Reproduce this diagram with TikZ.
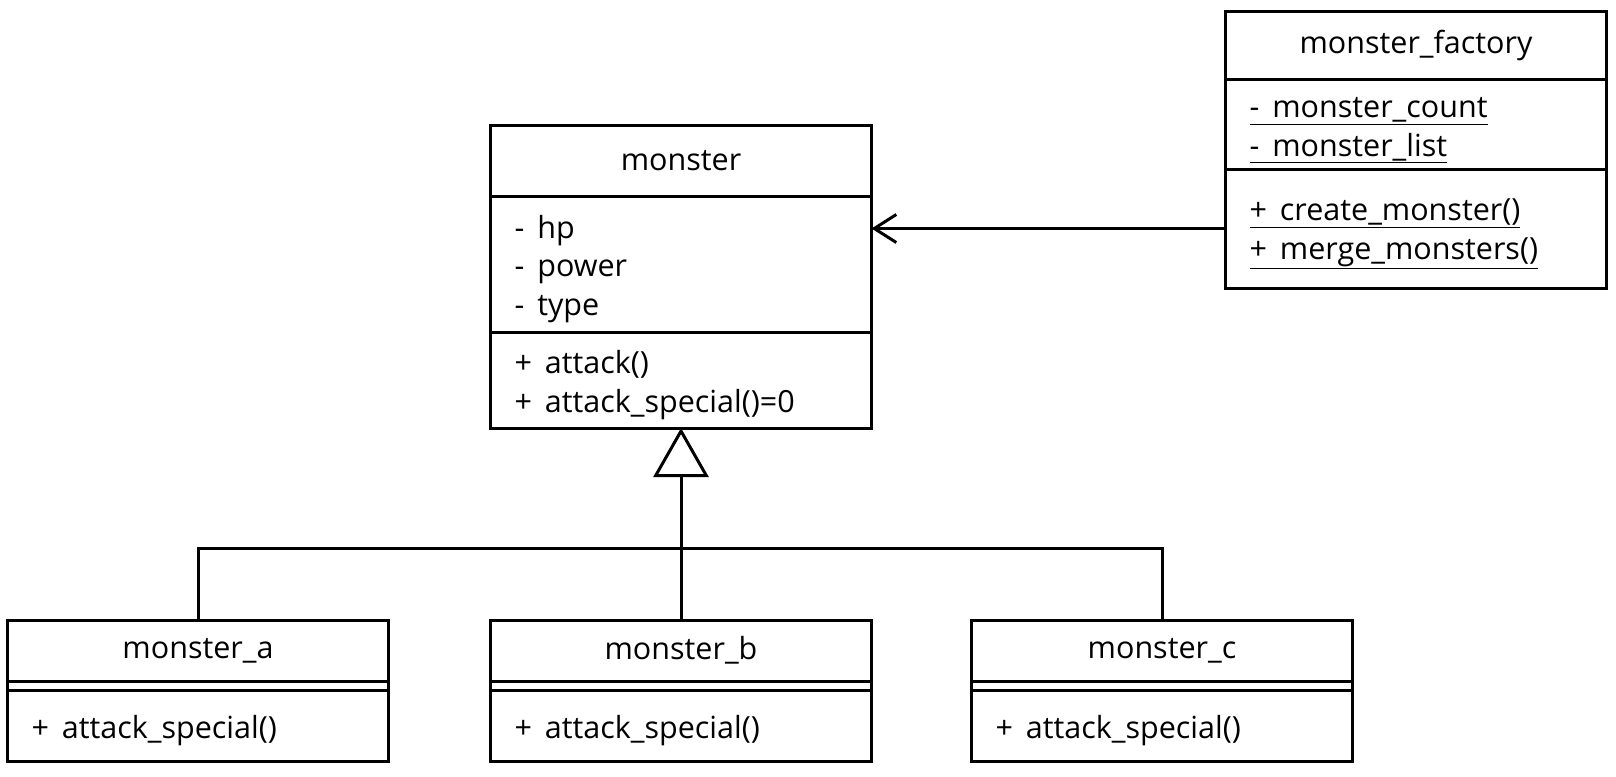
\documentclass[tikz,border=0pt]{standalone}
\usepackage{fontspec}
\setmainfont{Open Sans}
\usetikzlibrary{arrows.meta,positioning}

\newcommand{\pv}{-\hspace{13pt}}
\newcommand{\pb}{+\hspace{13pt}}

\tikzset{
  box/.style={draw,line width=3pt,outer sep=0pt,inner sep=0pt,
    minimum width=381pt,font=\fontsize{30.5}{38.7}\selectfont},
  title/.style={box,anchor=north},
  part/.style={box,below=0pt of #1,align=left,text width=333pt,
    execute at begin node={\rule{0pt}{33pt}}},
  gap/.style={box,below=0pt of #1,minimum height=9pt},
  link/.style={line width=3pt}
}

\begin{document}
\begin{tikzpicture}[x=1pt,y=-1pt]
  \useasboundingbox (0,0) rectangle (1616,776);

  % base class
  \node[title,minimum height=71pt] (monster) at (681,125) {monster};
  \node[part=monster,minimum height=136pt] (monster-attr)
    {\pv hp\\ \pv power\\ \pv type};
  \node[part=monster-attr,minimum height=96pt] (monster-ops)
    {\pb attack()\\ \pb attack\_special()=0};

  % factory
  \node[title,minimum height=67pt] (factory) at (1416,12) {monster\_factory};
  \node[part=factory,minimum height=90pt] (factory-attr)
    {\underline{\pv monster\_count}\\ \underline{\pv monster\_list}};
  \node[part=factory-attr,minimum height=119pt] (factory-ops)
    {\underline{\pb create\_monster()}\\ \underline{\pb merge\_monsters()}};

  % subclasses
  \foreach \name/\x in {a/198,b/681,c/1162}
  { \node[title,minimum height=61pt] (monster-\name) at (\x,620) {monster\_\name};
    \node[gap=monster-\name] (monster-\name-attr) {};
    \node[part=monster-\name-attr,minimum height=71pt] (monster-\name-ops)
      {\pb attack\_special()}; }

  \draw[link,-{Straight Barb[length=22pt,width=28pt]}]
    (factory-ops.west) -- (factory-ops.west -| monster-attr.east);

  \coordinate (bus) at (681,548);
  \draw[link] (monster-a.north) |- (bus) -| (monster-c.north);
  \draw[link,-{Triangle[open,length=49pt,width=55pt]}]
    (monster-b.north) -- (monster-ops.south);
\end{tikzpicture}
\end{document}
